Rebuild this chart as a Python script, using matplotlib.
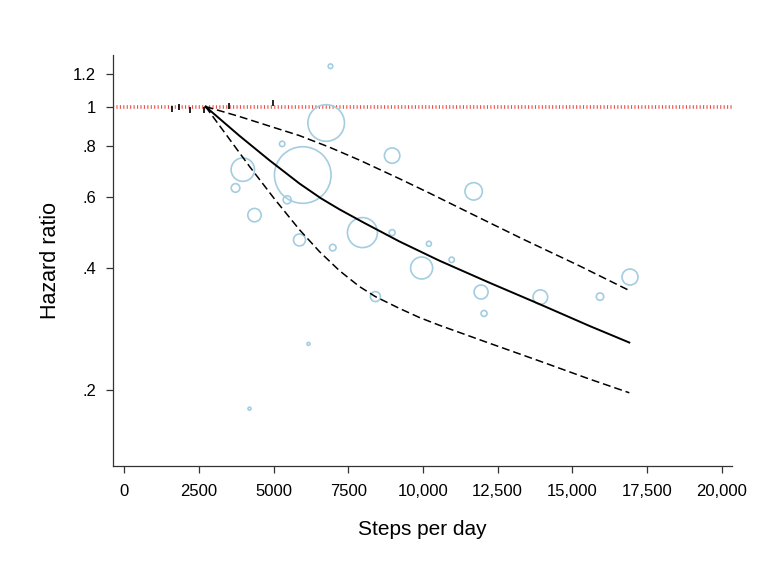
import matplotlib
matplotlib.use("Agg")
import matplotlib.pyplot as plt
from matplotlib.ticker import FixedLocator, NullLocator, FixedFormatter

plt.rcParams['font.family'] = ['Liberation Sans', 'DejaVu Sans']

# ---- data ----
# fitted dose-response curve (steps/day, hazard ratio)
curve_steps = [2725, 3862, 4866, 5869, 6588, 7206, 7986, 9213, 10550, 12222, 13894, 15566, 16904]
curve_hr    = [1.0, 0.847, 0.737, 0.646, 0.594, 0.558, 0.519, 0.465, 0.417, 0.368, 0.326, 0.288, 0.262]

# upper 95% confidence limit
upper_steps = [2725, 3862, 4866, 5869, 6872, 7875, 9213, 10216, 11888, 13326, 15232, 16904]
upper_hr    = [1.0, 0.945, 0.895, 0.848, 0.794, 0.738, 0.664, 0.612, 0.532, 0.472, 0.405, 0.352]

# lower 95% confidence limit
lower_steps = [2725, 4197, 5033, 5869, 6538, 7206, 7875, 8410, 9213, 9882, 10550, 12222, 13894, 15566, 16904]
lower_hr    = [1.0, 0.712, 0.592, 0.497, 0.439, 0.394, 0.360, 0.340, 0.318, 0.302, 0.289, 0.261, 0.236, 0.213, 0.197]

# study-level estimates (bubble size = weight, given as marker radius in px)
study_steps  = [6906, 6762, 5979, 3973, 3729, 4364, 5290, 5457, 5869, 6982,
                7975, 8969, 8969, 10199, 9955, 10962, 11697, 11945, 12045, 8410,
                13928, 15924, 16927, 6170, 4197]
study_hr     = [1.257, 0.911, 0.678, 0.699, 0.630, 0.540, 0.809, 0.589, 0.469, 0.449,
                0.489, 0.757, 0.489, 0.459, 0.400, 0.419, 0.618, 0.349, 0.309, 0.340,
                0.339, 0.340, 0.380, 0.260, 0.180]
study_weight = [2.3, 18.3, 28.3, 11.7, 4.3, 6.7, 2.7, 4.0, 6.0, 3.3,
                15.0, 7.7, 3.0, 2.5, 11.0, 2.7, 8.7, 7.0, 3.0, 5.0,
                7.3, 3.7, 8.0, 1.5, 1.5]

# reference-category markers
ref_steps = [1612, 1822, 2190, 2658, 3505, 4976]
ref_hr    = [0.989, 1.0, 0.980, 0.983, 1.006, 1.023]

x_ticks = [0, 2500, 5000, 7500, 10000, 12500, 15000, 17500, 20000]
x_labels = ["0", "2500", "5000", "7500", "10,000", "12,500", "15,000", "17,500", "20,000"]
y_ticks = [0.2, 0.4, 0.6, 0.8, 1.0, 1.2]
y_labels = [".2", ".4", ".6", ".8", "1", "1.2"]

# ---- figure ----
W, H = 774, 580
fig = plt.figure(figsize=(W / 100, H / 100), dpi=100)
ax = fig.add_axes([113 / W, 1 - 466 / H, (732 - 113) / W, (466 - 55) / H])
ax.set_yscale('log')
ax.set_xlim(-370, 20340)
ax.set_ylim(0.130, 1.34)

# reference line
ax.axhline(1.0, color='#ec4a40', lw=2.6, dashes=(0.3, 0.65), dash_capstyle='butt', zorder=1)

# bubbles
px2pt = 0.72
sizes = [(2 * r * px2pt) ** 2 for r in study_weight]
ax.scatter(study_steps, study_hr, s=sizes, facecolors='none', edgecolors='#a3cde0',
           linewidths=1.2, zorder=2)

# curves
ax.plot(curve_steps, curve_hr, color='black', lw=1.4, zorder=3, solid_joinstyle='round')
ax.plot(upper_steps, upper_hr, color='black', lw=1.1, dashes=(5.2, 2.6), zorder=3)
ax.plot(lower_steps, lower_hr, color='black', lw=1.1, dashes=(5.2, 2.6), zorder=3)

# reference markers
ax.plot(ref_steps, ref_hr, linestyle='none', marker='|', markersize=4.5,
        markeredgewidth=1.2, color='black', zorder=4)

# axes styling
for s in ['top', 'right']:
    ax.spines[s].set_visible(False)
for s in ['left', 'bottom']:
    ax.spines[s].set_color('#333333')
    ax.spines[s].set_linewidth(0.9)

ax.xaxis.set_major_locator(FixedLocator(x_ticks))
ax.xaxis.set_major_formatter(FixedFormatter(x_labels))
ax.xaxis.set_minor_locator(NullLocator())
ax.yaxis.set_major_locator(FixedLocator(y_ticks))
ax.yaxis.set_major_formatter(FixedFormatter(y_labels))
ax.yaxis.set_minor_locator(NullLocator())

ax.tick_params(axis='both', which='major', length=5, width=0.9, color='#333333',
               labelsize=12, labelcolor='black')
ax.tick_params(axis='x', pad=8)
ax.tick_params(axis='y', pad=7)

ax.set_xlabel('Steps per day', fontsize=15, labelpad=15)
ax.set_ylabel('Hazard ratio', fontsize=15.5, labelpad=9)

fig.savefig('out.png', dpi=100)
